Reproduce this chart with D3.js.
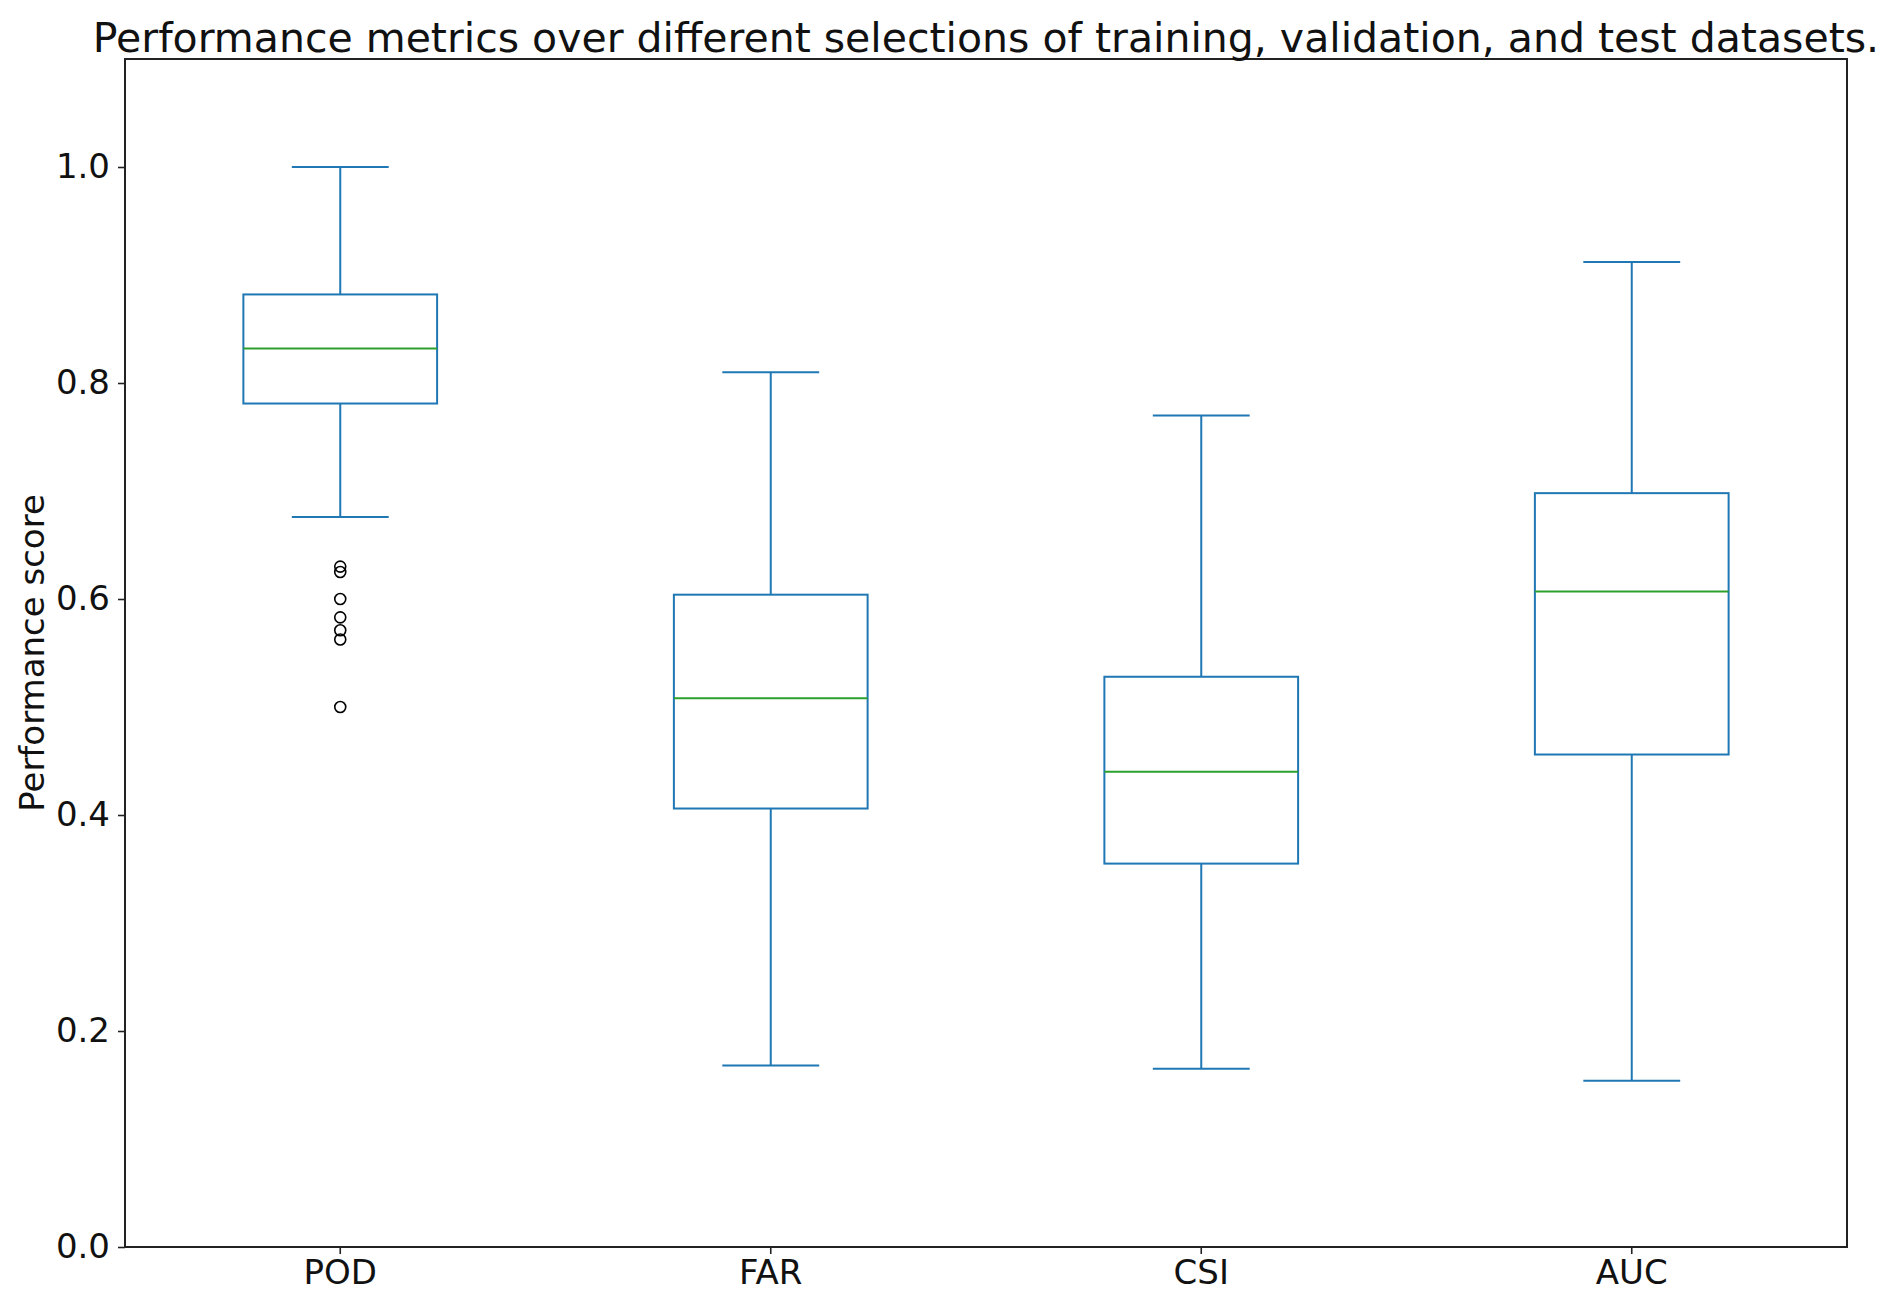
<!DOCTYPE html>
<html>
<head>
<meta charset="utf-8">
<script src="https://cdn.jsdelivr.net/npm/d3@7"></script>
<style>
  html, body { margin: 0; padding: 0; background: #fff; }
  svg { display: block; font-family: "DejaVu Sans", sans-serif; }
</style>
</head>
<body>
<svg id="chart" width="1892" height="1305"></svg>
<script>
// ---- data ----
const categories = ["POD", "FAR", "CSI", "AUC"];
const whiskerLow  = [0.676, 0.168, 0.165, 0.154];
const q1          = [0.781, 0.406, 0.355, 0.456];
const medians     = [0.832, 0.508, 0.440, 0.607];
const q3          = [0.882, 0.604, 0.528, 0.698];
const whiskerHigh = [1.000, 0.810, 0.770, 0.912];
const outliers    = [[0.630, 0.625, 0.600, 0.583, 0.571, 0.5625, 0.500], [], [], []];
const yTicks = [0.0, 0.2, 0.4, 0.6, 0.8, 1.0];
const titleText = "Performance metrics over different selections of training, validation, and test datasets.";
const yLabel = "Performance score";

(function () {
// ---- layout ----
const svg = d3.select("#chart");
const mLeft = 125, mRight = 1847, mTop = 59, mBottom = 1247;
const blue = "#1f77b4", green = "#2ca02c";

const x = d3.scaleBand().domain(categories).range([mLeft, mRight]).padding(0);
const y = d3.scaleLinear().domain([0, 1.1]).range([mBottom, mTop]);

const boxW = x.bandwidth() * 0.45;
const capW = boxW * 0.5;

const stats = categories.map((c, i) => ({
  c, lo: whiskerLow[i], q1: q1[i], med: medians[i], q3: q3[i], hi: whiskerHigh[i], out: outliers[i]
}));

const g = svg.append("g");
stats.forEach(d => {
  const cx = x(d.c) + x.bandwidth() / 2;
  const gg = g.append("g");
  gg.append("line").attr("x1", cx).attr("x2", cx).attr("y1", y(d.q3)).attr("y2", y(d.hi))
    .attr("stroke", blue).attr("stroke-width", 2);
  gg.append("line").attr("x1", cx).attr("x2", cx).attr("y1", y(d.q1)).attr("y2", y(d.lo))
    .attr("stroke", blue).attr("stroke-width", 2);
  [d.lo, d.hi].forEach(v => {
    gg.append("line").attr("x1", cx - capW / 2).attr("x2", cx + capW / 2)
      .attr("y1", y(v)).attr("y2", y(v)).attr("stroke", blue).attr("stroke-width", 2);
  });
  gg.append("rect").attr("x", cx - boxW / 2).attr("width", boxW)
    .attr("y", y(d.q3)).attr("height", y(d.q1) - y(d.q3))
    .attr("fill", "none").attr("stroke", blue).attr("stroke-width", 2);
  gg.append("line").attr("x1", cx - boxW / 2).attr("x2", cx + boxW / 2)
    .attr("y1", y(d.med)).attr("y2", y(d.med)).attr("stroke", green).attr("stroke-width", 2);
  gg.selectAll("circle").data(d.out).enter().append("circle")
    .attr("cx", cx).attr("cy", v => y(v)).attr("r", 5.5)
    .attr("fill", "none").attr("stroke", "#000").attr("stroke-width", 1.6);
});

// ---- axes ----
const fontSize = 34;
const yAxis = svg.append("g").attr("transform", `translate(${mLeft},0)`)
  .call(d3.axisLeft(y).tickValues(yTicks).tickFormat(d3.format(".1f")).tickSize(7).tickPadding(8));
const xAxis = svg.append("g").attr("transform", `translate(0,${mBottom})`)
  .call(d3.axisBottom(x).tickSize(7).tickPadding(6));
[yAxis, xAxis].forEach(a => {
  a.select(".domain").remove();
  a.selectAll(".tick line").attr("stroke", "#222").attr("stroke-width", 1.6);
  a.selectAll(".tick text").attr("fill", "#111").style("font-size", fontSize + "px")
    .style("font-family", "'DejaVu Sans', sans-serif");
});

svg.append("rect").attr("x", mLeft).attr("y", mTop).attr("width", mRight - mLeft).attr("height", mBottom - mTop)
  .attr("fill", "none").attr("stroke", "#222").attr("stroke-width", 2);

svg.append("text").attr("x", (mLeft + mRight) / 2).attr("y", 52).attr("text-anchor", "middle")
  .style("font-size", "41px").attr("fill", "#111").text(titleText);

svg.append("text").attr("transform", `translate(44,${(mTop + mBottom) / 2}) rotate(-90)`)
  .attr("text-anchor", "middle").style("font-size", fontSize + "px").attr("fill", "#111").text(yLabel);
})();
</script>
</body>
</html>
